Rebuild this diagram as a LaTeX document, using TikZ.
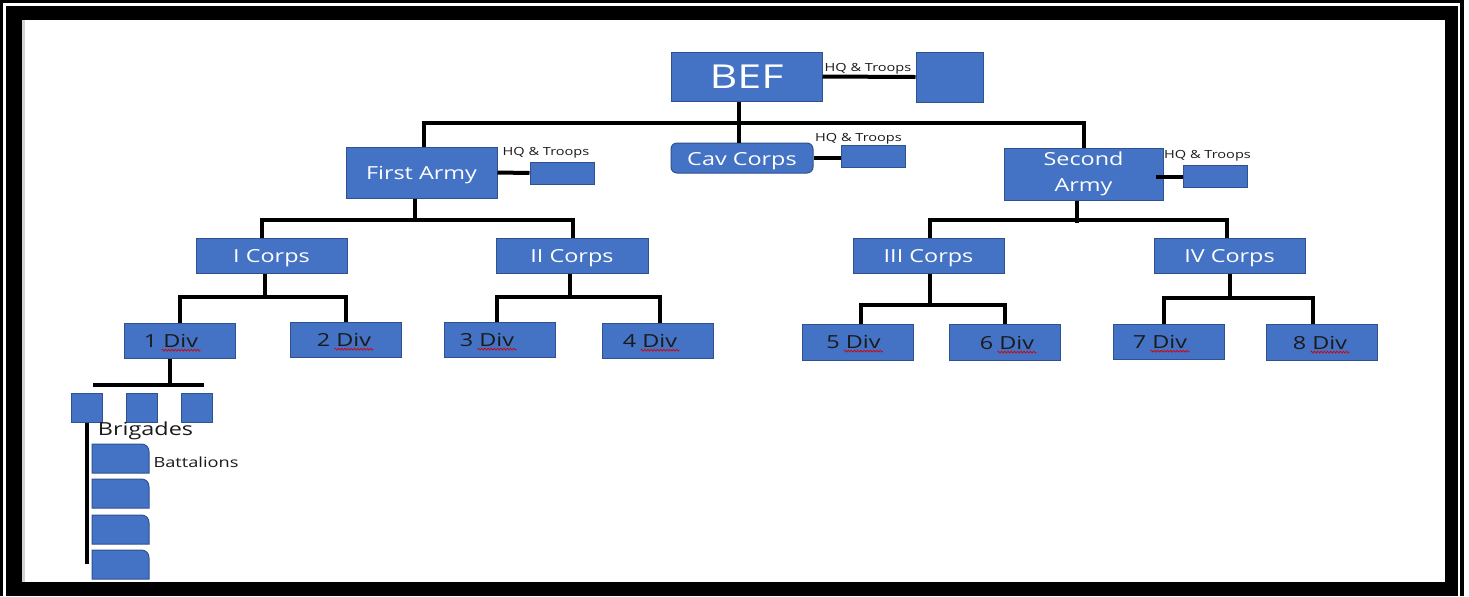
\documentclass[tikz,border=0pt]{standalone}
\usepackage{fontspec}
\setmainfont{Open Sans}
\usepackage{graphicx}
\usetikzlibrary{calc,decorations.pathmorphing}
\definecolor{bfill}{HTML}{4472C4}
\definecolor{bline}{HTML}{2F528F}
\definecolor{lbl}{HTML}{1A1A1A}
\newcommand\sx[1]{\scalebox{1.3}[1]{#1}}
\begin{document}
\begin{tikzpicture}[x=0.5pt,y=-0.5pt,
  boxbase/.style={draw=bline,fill=bfill,line width=0.5pt,inner sep=0pt,text=white,align=center,
    font=\fontsize{9}{12}\selectfont},
  box/.style={boxbase,text height=0.714em,text depth=0pt},
  hqbox/.style={box,minimum width=32pt,minimum height=11pt},
  divbox/.style={box,minimum width=55.5pt,minimum height=17.5pt},
  brig/.style={box,minimum width=15.5pt,minimum height=14.5pt},
  divt/.style={inner sep=0pt,text=lbl,font=\fontsize{9}{11}\selectfont},
  hql/.style={inner sep=0pt,text=lbl,font=\fontsize{5.6}{7}\selectfont},
  conn/.style={line width=2pt,black},
  squig/.style={red!85!black,line width=0.35pt,decorate,decoration={snake,amplitude=0.45pt,segment length=1.6pt}},
  bat/.style={draw=bline,fill=bfill,line width=0.5pt}]
\useasboundingbox (0,0) rectangle (1469,596);
% frame
\fill[white] (0,0) rectangle (1469,596);
\fill[black] (0,0) rectangle (1464,596);
\fill[white] (3,3) rectangle (1460,596);
\fill[black] (5.5,5.5) rectangle (1458,596);
\fill[white] (22,20) rectangle (1445,582);
\fill[gray!35] (22,20) rectangle (25,582);

% boxes
\node[box,minimum width=75.5pt,minimum height=24.5pt,text height=11.8pt,font=\fontsize{16.5}{20}\selectfont] (bef) at (746.5,76.5) {\sx{BEF}};
\node[box,minimum width=33.5pt,minimum height=25pt] (bhq) at (949.5,77) {};
\node[box,minimum width=71pt,minimum height=15pt,rounded corners=3pt] (cav) at (742,158) {\sx{Cav Corps}};
\node[hqbox] (chq) at (873,156) {};
\node[box,minimum width=75.5pt,minimum height=25.5pt] (fa) at (421.5,172.5) {\sx{First Army}};
\node[hqbox] (fhq) at (562,173) {};
\node[boxbase,minimum width=79.5pt,minimum height=26pt] (sa) at (1083.5,174) {\sx{Second}\\[1pt]\sx{Army}};
\node[hqbox] (shq) at (1215,176) {};

\node[box,minimum width=75.5pt,minimum height=17.5pt] (c1) at (271.5,255.5) {\sx{I Corps}};
\node[box,minimum width=76pt,minimum height=17.5pt] (c2) at (572,255.5) {\sx{II Corps}};
\node[box,minimum width=75.5pt,minimum height=17.5pt] (c3) at (928.5,255.5) {\sx{III Corps}};
\node[box,minimum width=75.5pt,minimum height=17.5pt] (c4) at (1229.5,255.5) {\sx{IV Corps}};

\node[divbox] (d1) at (180,340.5) {};
\node[divbox] (d2) at (346,339.5) {};
\node[divbox] (d3) at (500,339.5) {};
\node[divbox] (d4) at (657.5,340.5) {};
\node[divbox,minimum height=18pt] (d5) at (858,342) {};
\node[divbox,minimum height=18pt] (d6) at (1004.5,342) {};
\node[divbox] (d7) at (1168.5,341.5) {};
\node[divbox,minimum height=18pt] (d8) at (1321.5,342) {};

\node[divt] (d1t) at (171,341) {\sx{1 Div}};
\node[divt] (d2t) at (344,340) {\sx{2 Div}};
\node[divt] (d3t) at (487,340) {\sx{3 Div}};
\node[divt] (d4t) at (650,341) {\sx{4 Div}};
\node[divt] (d5t) at (853.5,342) {\sx{5 Div}};
\node[divt] (d6t) at (1007,343) {\sx{6 Div}};
\node[divt] (d7t) at (1160,342) {\sx{7 Div}};
\node[divt] (d8t) at (1320,343) {\sx{8 Div}};
\foreach \n in {d1t,d2t,d3t,d4t,d5t,d6t,d7t,d8t}
  \draw[squig] ([xshift=-18.5pt,yshift=-1.3pt]\n.base east) -- ([xshift=1pt,yshift=-1.3pt]\n.base east);

\node[brig] (g1) at (87,407.5) {};
\node[brig] (g2) at (141.5,407.5) {};
\node[brig] (g3) at (196.5,407.5) {};

\foreach \y in {444,479,515,550}
  \filldraw[bat] (92,\y+29) -- (92,\y) -- (141,\y) .. controls (146,\y) and (149,\y+3) .. (149,\y+8) -- (149,\y+29) -- cycle;

% labels
\node[hql] (bhql) at (868,69) {\sx{HQ \& Troops}};
\node[hql] (chql) at (858.5,139) {\sx{HQ \& Troops}};
\node[hql] (fhql) at (546,153) {\sx{HQ \& Troops}};
\node[hql] (shql) at (1207.5,156) {\sx{HQ \& Troops}};
\node[divt,font=\fontsize{9}{11}\selectfont] (brt) at (145.5,431) {\sx{Brigades}};
\node[divt,font=\fontsize{7}{9}\selectfont] (bat) at (196,462) {\sx{Battalions}};

% HQ connectors
\draw[conn] (bef.east) -- (bhq.west);
\draw[conn] (cav.east) -- (cav.east -| chq.west);
\draw[conn] (fa.east) -- (fhq.west);
\coordinate (sal) at ($(sa.east)+(-8,3)$);
\draw[conn] (sal) -- (sal -| shq.west);

% top bus
\coordinate (tb) at (739,123);
\draw[conn] ($(bef.south)+(-7.5,0)$) -- ($(cav.north)+(-3,0)$);
\draw[conn] ($(fa.north)+(2.5,0)$) |- (tb) -| (sa.north);

% first army bus
\coordinate (fb) at (415,220);
\draw[conn] (fa.south -| fb) -- (fb);
\draw[conn] ($(c1.north)+(-9.5,0)$) |- (fb) -| ($(c2.north)+(1,0)$);

% second army bus
\coordinate (sb) at (1077,220);
\draw[conn] (sa.south -| sb) -- ($(sb)+(0,3)$);
\draw[conn] ($(c3.north)+(1.5,0)$) |- (sb) -| ($(c4.north)+(-2.5,0)$);

% corps buses
\coordinate (c1b) at (265,297);
\draw[conn] (c1.south -| c1b) -- (c1b);
\draw[conn] (d1.north) |- (c1b) -| (d2.north);
\coordinate (c2b) at (570,297);
\draw[conn] (c2.south -| c2b) -- (c2b);
\draw[conn] ($(d3.north)+(-3,0)$) |- (c2b) -| ($(d4.north)+(2.5,0)$);
\coordinate (c3b) at (930,305);
\draw[conn] (c3.south -| c3b) -- (c3b);
\draw[conn] ($(d5.north)+(3,0)$) |- (c3b) -| (d6.north);
\coordinate (c4b) at (1230,298);
\draw[conn] (c4.south -| c4b) -- (c4b);
\draw[conn] ($(d7.north)+(-4.5,0)$) |- (c4b) -| ($(d8.north)+(-8.5,0)$);

% brigade bus
\coordinate (bj) at (170,385);
\coordinate (bl) at (93,385);
\coordinate (br) at (204,385);
\draw[conn] (d1.south -| bj) -- (bj);
\draw[conn] (bl) -- (br);
\coordinate (bend) at (87,564);
\draw[line width=2.3pt] (g1.south) -- (bend);
\end{tikzpicture}
\end{document}
